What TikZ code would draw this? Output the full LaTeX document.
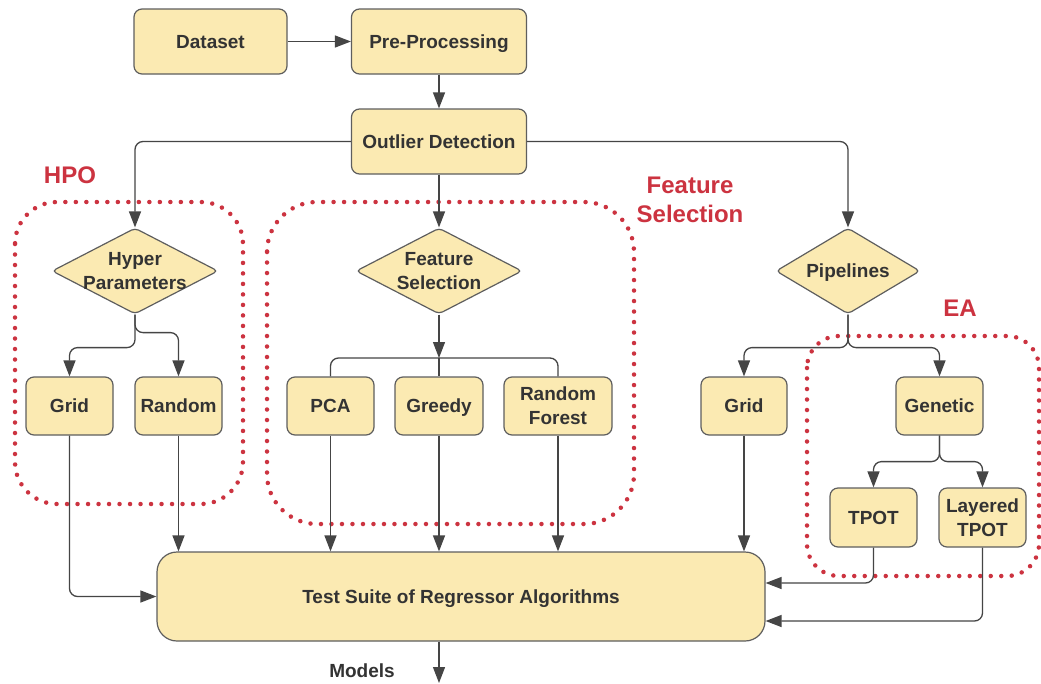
\documentclass[tikz,border=0pt]{standalone}
\usepackage{fontspec}
\setmainfont{Liberation Sans}
\usetikzlibrary{shapes.geometric,arrows.meta}
\definecolor{boxfill}{HTML}{FBEAB2}
\definecolor{boxdraw}{HTML}{5E5E5E}
\definecolor{txt}{HTML}{333333}
\definecolor{hred}{HTML}{CC3340}
\definecolor{conn}{HTML}{454545}
\begin{document}
\begin{tikzpicture}[x=1pt,y=-1pt,
  lbl/.style={font=\fontsize{19}{24}\selectfont\bfseries, text=txt, align=center, inner sep=0pt},
  sl/.style={text height=13.6pt, text depth=0pt},
  box/.style={lbl, draw=boxdraw, fill=boxfill, line width=1.2pt, rounded corners=8pt, minimum height=58pt},
  dia/.style={diamond, draw=boxdraw, fill=boxfill, line width=1.2pt, rounded corners=4pt, inner sep=0pt},
  grp/.style={font=\fontsize{24}{29}\selectfont\bfseries, text=hred, align=center, inner sep=0pt},
  dotreg/.style={draw=hred, line width=4.5pt, line cap=round, dash pattern=on 0pt off 10.5pt},
  conline/.style={draw=conn, line width=1.3pt, rounded corners=8pt},
  arr/.style={conline, -{Triangle[length=16pt,width=12pt]}}
]
\useasboundingbox (0,0) rectangle (1041,683);
\fill[white] (0,0) rectangle (1041,683);

% dotted group regions
\draw[dotreg, rounded corners=42pt] (15,202) rectangle (243,504);
\draw[dotreg, rounded corners=50pt] (267,202) rectangle (634,524);
\draw[dotreg, rounded corners=32pt] (807,336) rectangle (1039,576);

% group labels
\node[grp] (hpoL) at (70,175) {HPO};
\node[grp] (fsL) at (690,200) {Feature\\Selection};
\node[grp] (eaL) at (960,308) {EA};

% nodes
\node[box, sl, minimum width=153pt, minimum height=65pt] (ds) at (210.5,41.5) {Dataset};
\node[box, sl, minimum width=175pt, minimum height=65pt] (pp) at (439,41.5) {Pre-Processing};
\node[box, sl, minimum width=175pt, minimum height=65pt] (od) at (439,141.5) {Outlier Detection};

\node[dia, minimum width=166pt, minimum height=86pt] (hp) at (135,271) {};
\node[lbl] (hpT) at (hp) {Hyper\\Parameters};
\node[dia, minimum width=166pt, minimum height=86pt] (fs) at (439,271) {};
\node[lbl] (fsT) at (fs) {Feature\\Selection};
\node[dia, minimum width=144pt, minimum height=86pt] (pl) at (848,271) {};
\node[lbl, sl] (plT) at (pl) {Pipelines};

\node[box, sl, minimum width=87pt] (gr1) at (69.5,406) {Grid};
\node[box, sl, minimum width=87pt] (rnd) at (178.5,406) {Random};
\node[box, sl, minimum width=87pt] (pca) at (330.5,406) {PCA};
\node[box, sl, minimum width=88pt] (gre) at (439,406) {Greedy};
\node[box, minimum width=108pt] (rf) at (558,406) {Random\\Forest};
\node[box, sl, minimum width=86pt] (gr2) at (744,406) {Grid};
\node[box, sl, minimum width=87pt] (gen) at (939.5,406) {Genetic};
\node[box, sl, minimum width=87pt, minimum height=59pt] (tp) at (873.5,517.5) {TPOT};
\node[box, minimum width=87pt, minimum height=59pt] (lt) at (982.5,517.5) {Layered\\TPOT};

\node[box, sl, minimum width=608pt, minimum height=89pt, rounded corners=20pt] (ts) at (461,596.5) {Test Suite of Regressor Algorithms};
\node[lbl] (mod) at (362,671) {Models};
\coordinate (out) at (439,683);
\coordinate (fsj) at (439,358);

% connectors
\draw[arr] (ds) -- (pp);
\draw[arr] (pp) -- (od);
\draw[arr] (od.west) -| (hp.north);
\draw[arr] (od) -- (fs);
\draw[arr] (od.east) -| (pl.north);

\draw[arr] (hp.south) -- ++(0,33) -| (gr1.north);
\draw[arr] (hp.south) -- ++(0,18) -| (rnd.north);

\draw[arr] (fs.south) -- (fsj);
\draw[conline] (fsj) -- (gre.north);
\draw[conline] (pca.north) |- (fsj) -| (rf.north);

\draw[arr] (pl.south) -- ++(0,33) -| (gr2.north);
\draw[arr] (pl.south) -- ++(0,33) -| (gen.north);

\draw[arr] (gen.south) -- ++(0,26) -| (tp.north);
\draw[arr] (gen.south) -- ++(0,26) -| (lt.north);

\draw[arr] (gr1.south) |- (ts.west);
\draw[arr] (rnd.south) -- (rnd.south |- ts.north);
\draw[arr] (pca.south) -- (pca.south |- ts.north);
\draw[arr] (gre.south) -- (gre.south |- ts.north);
\draw[arr] (rf.south) -- (rf.south |- ts.north);
\draw[arr] (gr2.south) -- (gr2.south |- ts.north);
\draw[arr] (tp.south) |- ([yshift=13.5pt]ts.east);
\draw[arr] (lt.south) |- ([yshift=-24.5pt]ts.east);
\draw[arr] (ts.south -| out) -- (out);
\end{tikzpicture}
\end{document}
